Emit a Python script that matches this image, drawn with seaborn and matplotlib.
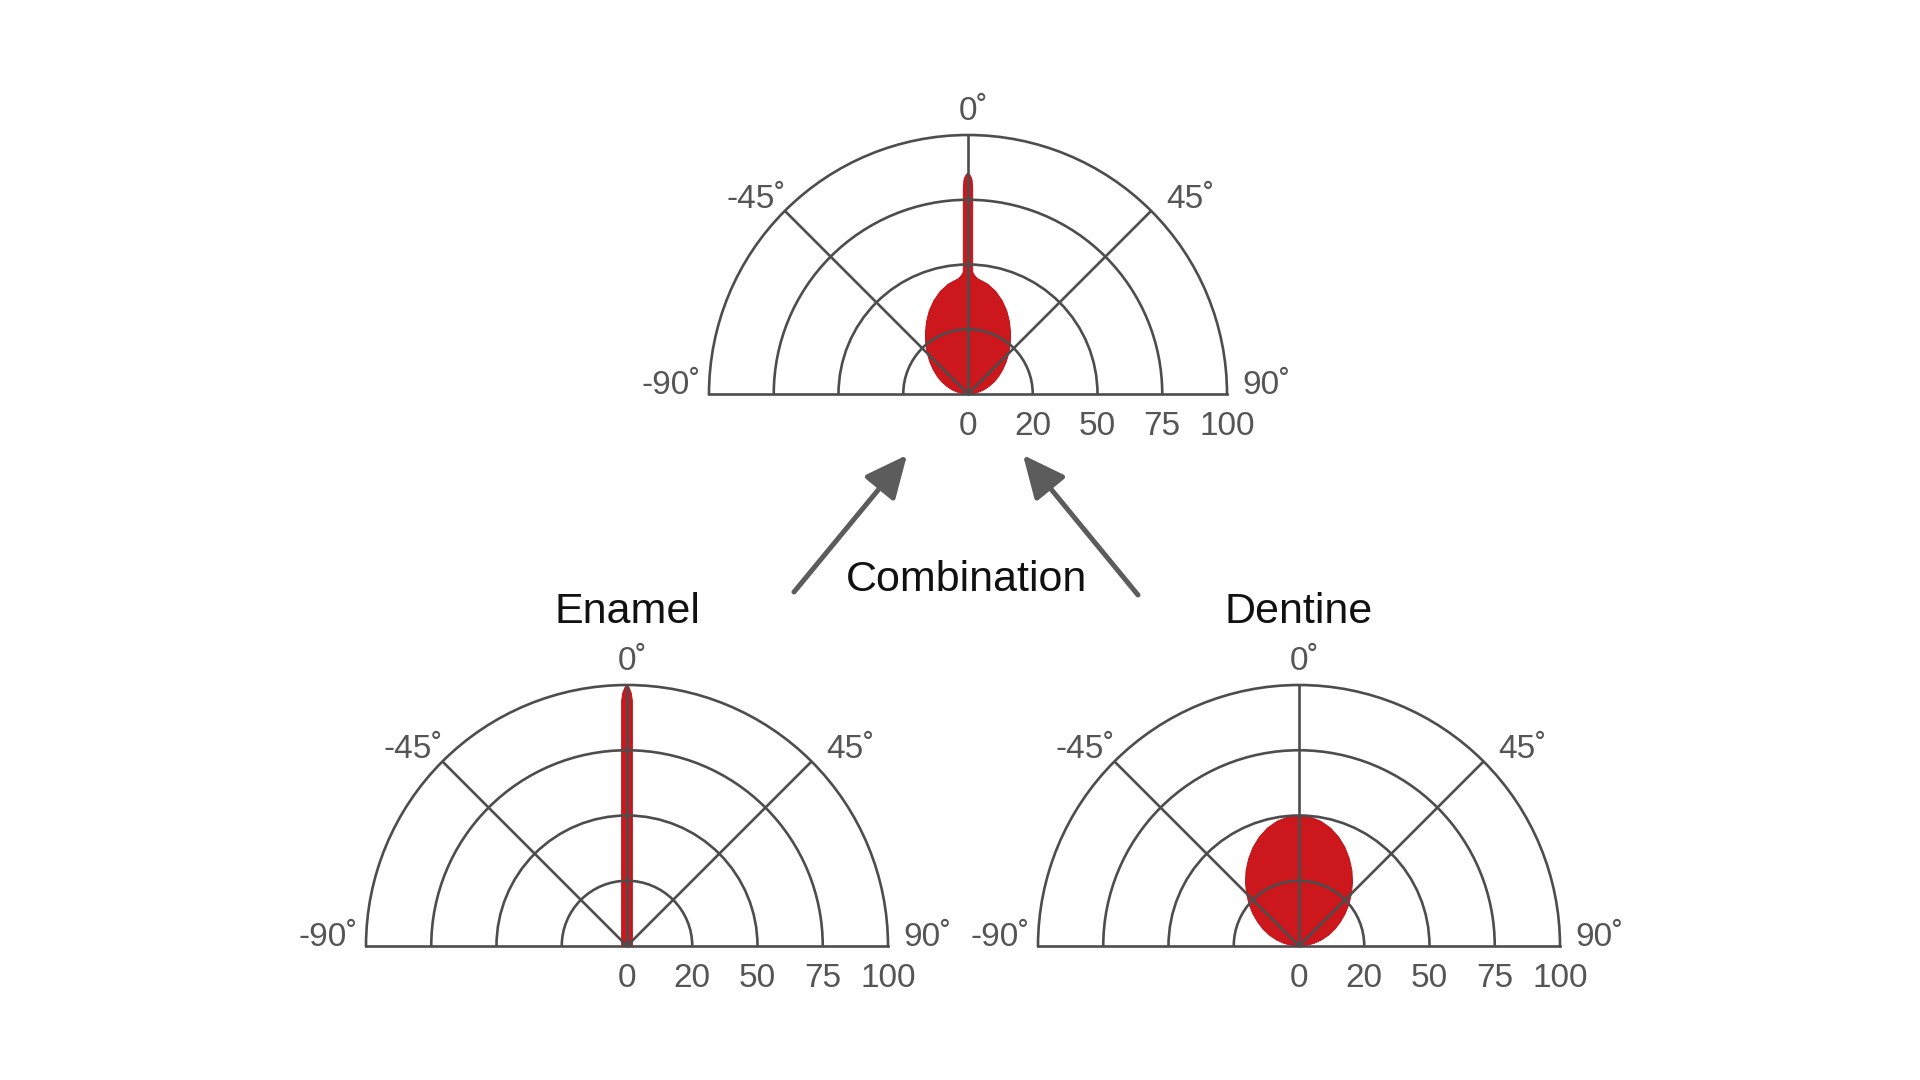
import numpy as np
import matplotlib
matplotlib.use('Agg')
import matplotlib.pyplot as plt
import seaborn as sns
from matplotlib.patches import FancyArrowPatch

# radial axis: rings are equally spaced although the values are not
ring_values = [0, 20, 50, 75, 100]
ring_positions = [0, 25, 50, 75, 100]
angle_ticks = [-90, -45, 0, 45, 90]
angle_labels = ['-90˚', '-45˚', '0˚', '45˚', '90˚']

# angles in degrees (0 = straight up), radii in axis units
enamel_angle = [-90, -75, -60, -45, -30, -20, -15, -10, -7, -5, -4, -3, -2, -1.5, -1.25, -0.95, -0.46, 0,
                0.46, 0.95, 1.25, 1.5, 2, 3, 4, 5, 7, 10, 15, 20, 30, 45, 60, 75, 90]
enamel_r = [1.6, 1.7, 1.9, 2.3, 3.3, 4.8, 6.3, 9.4, 13.4, 18.8, 25.3, 37.0, 58.7, 78.3, 94, 97, 99, 100,
            99, 97, 94, 78.3, 58.7, 37.0, 25.3, 18.8, 13.4, 9.4, 6.3, 4.8, 3.3, 2.3, 1.9, 1.7, 1.6]

dentine_angle = [-90, -85, -80, -75, -70, -65, -60, -55, -50, -45, -40, -35, -30, -25, -20, -15, -10, -5, 0,
                 5, 10, 15, 20, 25, 30, 35, 40, 45, 50, 55, 60, 65, 70, 75, 80, 85, 90]
dentine_r = [0, 2.4, 4.7, 7.1, 9.6, 12.1, 14.6, 17.3, 20.0, 24.1, 28.3, 32.4, 36.3, 40.0, 43.3, 46.1, 48.2, 49.5, 50,
             49.5, 48.2, 46.1, 43.3, 40.0, 36.3, 32.4, 28.3, 24.1, 20.0, 17.3, 14.6, 12.1, 9.6, 7.1, 4.7, 2.4, 0]

combo_angle = [-90, -85, -80, -75, -70, -65, -60, -55, -50, -45, -40, -35, -30, -25, -20, -15, -10, -5, -4, -3.2,
               -2.6, -2.2, -2, -1.75, -1.5, -1.3, -1.1, -0.8, -0.4, 0,
               0.4, 0.8, 1.1, 1.3, 1.5, 1.75, 2, 2.2, 2.6,
               3.2, 4, 5, 10, 15, 20, 25, 30, 35, 40, 45, 50, 55, 60, 65, 70, 75, 80, 85, 90]
combo_r = [0, 1.7, 3.4, 5.2, 7.0, 9.0, 11.0, 13.1, 15.4, 17.8, 20.5, 24.4, 28.5, 32.5, 36.1, 39.3, 41.8, 43.5, 44.2, 45.0,
           45.8, 46.6, 51.6, 58.9, 68.7, 79.3, 82.5, 83.8, 84.8, 85.3,
           84.8, 83.8, 82.5, 79.3, 68.7, 58.9, 51.6, 46.6, 45.8,
           45.0, 44.2, 43.5, 41.8, 39.3, 36.1, 32.5, 28.5, 24.4, 20.5, 17.8, 15.4, 13.1, 11.0, 9.0, 7.0, 5.2, 3.4, 1.7, 0]

red = '#cc171c'
grey = '#4d4d4d'
label_grey = '#555555'

sns.set_theme(style='white')
plt.rcParams['font.family'] = ['Liberation Sans', 'DejaVu Sans']


def fwd(r):
    return np.interp(r, ring_values, ring_positions)


def inv(p):
    return np.interp(p, ring_positions, ring_values)


fig = plt.figure(figsize=(19.2, 10.8), dpi=100)
W, H = 1920, 1080


def half_polar(cx, cy, R, angle, r):
    # polar axes pad a half disc to a square box: baseline sits at 1/4 height
    cyf = H - cy
    ax = fig.add_axes([(cx - R) / W, (cyf - R / 2) / H, 2 * R / W, 2 * R / H],
                      projection='polar')
    ax.set_theta_zero_location('N')
    ax.set_theta_direction(-1)
    ax.set_thetamin(-90)
    ax.set_thetamax(90)
    ax.set_rscale('function', functions=(fwd, inv))
    th = np.deg2rad(angle)
    ax.fill(th, r, color=red, lw=0, zorder=1)
    sns.lineplot(x=th, y=r, ax=ax, sort=False, estimator=None, color='#b8161b', lw=0.7, zorder=1)
    ax.set_rlim(0, 100)
    ax.set_axisbelow(False)
    ax.set_rgrids(ring_values[1:-1])
    ax.set_thetagrids([-45, 0, 45])
    ax.set_xticklabels([])
    ax.set_yticklabels([])
    ax.set_xlabel('')
    ax.set_ylabel('')
    ax.grid(True, color=grey, lw=1.9)
    ax.tick_params(length=0)
    for sp in ax.spines.values():
        sp.set_color(grey)
        sp.set_linewidth(1.9)

    # angle labels around the rim
    offsets = {-90: (-8, 0, 'right'), -45: (1, 3, 'right'), 0: (-9, 15, 'left'),
               45: (15, 3, 'left'), 90: (15, 0, 'left')}
    for a, lab in zip(angle_ticks, angle_labels):
        dx, dy, ha = offsets[a]
        ax.annotate(lab, xy=(np.deg2rad(a), 100), xytext=(dx, dy), textcoords='offset pixels',
                    ha=ha, va='baseline', fontsize=24, color=label_grey, annotation_clip=False)
    # radial labels under the baseline, right side
    for v in ring_values:
        ax.annotate(str(v), xy=(np.deg2rad(90), v), xytext=(0, -17), textcoords='offset pixels',
                    ha='center', va='top', fontsize=24, color=label_grey, annotation_clip=False)
    return ax


ax_top = half_polar(968, 394, 259, combo_angle, combo_r)
ax_en = half_polar(627, 946, 261, enamel_angle, enamel_r)
ax_de = half_polar(1299, 946, 261, dentine_angle, dentine_r)

fig.text(627 / W, 1 - 612 / H, 'Enamel', ha='center', va='center', fontsize=31, color='#111111')
fig.text(1299 / W, 1 - 612 / H, 'Dentine', ha='center', va='center', fontsize=31, color='#111111')
fig.text(966 / W, 1 - 580 / H, 'Combination', ha='center', va='center', fontsize=31, color='#111111')

for (x0, y0), (x1, y1) in [((794, 592), (907, 455)), ((1138, 595), (1023, 455))]:
    arr = FancyArrowPatch((x0 / W, 1 - y0 / H), (x1 / W, 1 - y1 / H), transform=fig.transFigure,
                          arrowstyle='-|>,head_length=2.6,head_width=1.2', mutation_scale=10,
                          color='#5c5c5c', lw=3.6, shrinkA=0, shrinkB=0)
    fig.add_artist(arr)

fig.savefig('out.png', dpi=100, facecolor='white')
